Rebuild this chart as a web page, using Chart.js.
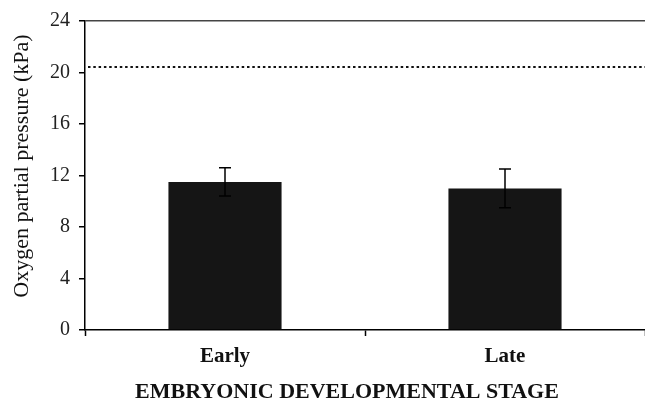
<!DOCTYPE html>
<html>
<head>
<meta charset="utf-8">
<script src="https://cdn.jsdelivr.net/npm/chart.js@4"></script>
<style>
  html, body { margin: 0; padding: 0; background: #fff; }
  #wrap { width: 645px; height: 404px; }
</style>
</head>
<body>
<div id="wrap"><canvas id="barChart" width="645" height="404"></canvas></div>
<script>
// data
const stages = ['Early', 'Late'];
const meanPO2 = [11.5, 11.0];
const errLow = [10.4, 9.5];
const errHigh = [12.6, 12.5];
const airPO2 = 20.4;
const yTicks = [0, 4, 8, 12, 16, 20, 24];

const serif = '"Liberation Serif", "Times New Roman", serif';

// error bars + dotted air line + axis titles
const extras = {
    id: 'extras',
    afterDatasetsDraw(chart) {
        const ctx = chart.ctx;
        const x = chart.scales.x, y = chart.scales.y;
        const area = chart.chartArea;

        ctx.save();
        ctx.strokeStyle = '#111';
        ctx.lineWidth = 2;
        ctx.setLineDash([2.5, 2.8]);
        const ya = Math.round(y.getPixelForValue(airPO2));
        ctx.beginPath();
        ctx.moveTo(area.left + 3, ya);
        ctx.lineTo(area.right, ya);
        ctx.stroke();
        ctx.setLineDash([]);

        ctx.strokeStyle = '#000';
        ctx.lineWidth = 1.5;
        stages.forEach((s, i) => {
            const cx = x.getPixelForValue(i);
            const y1 = y.getPixelForValue(errHigh[i]);
            const y0 = y.getPixelForValue(errLow[i]);
            ctx.beginPath();
            ctx.moveTo(cx, y1); ctx.lineTo(cx, y0);
            ctx.moveTo(cx - 6, y1); ctx.lineTo(cx + 6, y1);
            ctx.moveTo(cx - 6, y0); ctx.lineTo(cx + 6, y0);
            ctx.stroke();
        });
        ctx.restore();
    },
    afterDraw(chart) {
        const ctx = chart.ctx;
        ctx.save();
        ctx.fillStyle = '#111';
        ctx.textAlign = 'center';
        ctx.font = 'bold 22px ' + serif;
        ctx.textBaseline = 'alphabetic';
        ctx.fillText('EMBRYONIC DEVELOPMENTAL STAGE', 347, 398);
        ctx.translate(22, 166);
        ctx.rotate(-Math.PI / 2);
        ctx.font = '22px ' + serif;
        ctx.textBaseline = 'middle';
        ctx.fillText('Oxygen partial pressure (kPa)', 0, 0);
        ctx.restore();
    }
};

new Chart(document.getElementById('barChart').getContext('2d'), {
    type: 'bar',
    data: {
        labels: stages,
        datasets: [{
            data: meanPO2,
            backgroundColor: '#151515',
            borderWidth: 0,
            barPercentage: 0.404,
            categoryPercentage: 1
        }]
    },
    options: {
        responsive: false,
        animation: false,
        layout: { padding: { top: 19, left: 0, right: 0, bottom: 0 } },
        plugins: { legend: { display: false }, tooltip: { enabled: false } },
        scales: {
            x: {
                offset: true,
                afterFit(scale) { scale.height = 74; },
                grid: {
                    offset: true,
                    drawOnChartArea: false,
                    tickColor: c => c.index === stages.length ? 'rgba(0,0,0,0)' : '#000',
                    tickLength: 6,
                    tickWidth: 1.5
                },
                border: { color: '#000', width: 1.5 },
                ticks: { color: '#111', padding: 8, font: { family: serif, size: 21, weight: 'bold' } }
            },
            y: {
                min: 0,
                max: 24,
                afterFit(scale) { scale.width = 85; },
                afterBuildTicks(scale) { scale.ticks = yTicks.map(v => ({ value: v })); },
                grid: {
                    color: c => (c.tick && c.tick.value === 24) ? '#444' : 'rgba(0,0,0,0)',
                    lineWidth: 1.5,
                    tickColor: '#000',
                    tickLength: 6,
                    tickWidth: 1.5
                },
                border: { color: '#000', width: 1.5 },
                ticks: { color: '#222', padding: 9, font: { family: serif, size: 20 } }
            }
        }
    },
    plugins: [extras]
});
</script>
</body>
</html>
